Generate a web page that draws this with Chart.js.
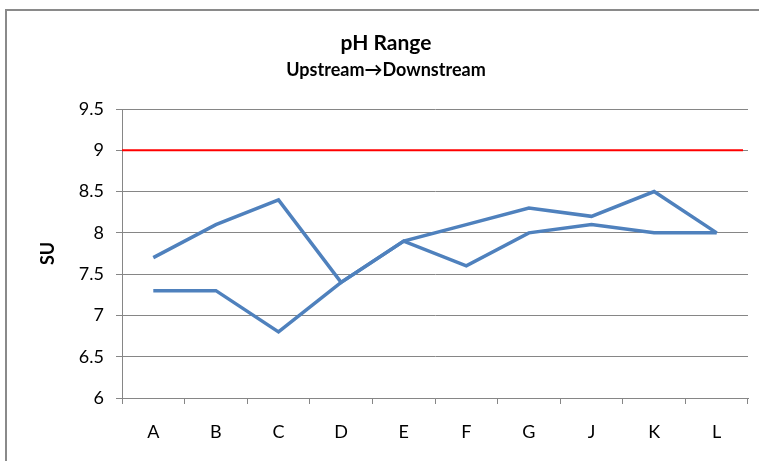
<!DOCTYPE html>
<html>
<head>
<meta charset="utf-8">
<script src="https://cdn.jsdelivr.net/npm/chart.js@4"></script>
<style>
  body { margin: 0; background: #fff; }
  #frame { position: absolute; left: 5px; top: 9px; width: 800px; height: 500px; border: 2px solid #8a8a8a; }
  #wrap { position: absolute; left: 0; top: 0; width: 759px; height: 461px; }
</style>
</head>
<body>
<div id="frame"></div>
<div id="wrap"><canvas id="phChart" width="759" height="461"></canvas></div>
<script>
const categorias = ['A', 'B', 'C', 'D', 'E', 'F', 'G', 'J', 'K', 'L'];
const serieAlta = [7.7, 8.1, 8.4, 7.4, 7.9, 8.1, 8.3, 8.2, 8.5, 8.0];
const serieBaixa = [7.3, 7.3, 6.8, 7.4, 7.9, 7.6, 8.0, 8.1, 8.0, 8.0];
const limiteMax = 9;
const yMin = 6, yMax = 9.5, yStep = 0.5;
const titulo = 'pH Range';
const subtitulo = 'Upstream\u2192Downstream';

const fonte = 'Lato, "Open Sans", sans-serif';

// linha vermelha do limite e titulos
const extras = {
    id: 'extras',
    afterDatasetsDraw(chart) {
        const ctx = chart.ctx;
        const area = chart.chartArea;
        const y = chart.scales.y.getPixelForValue(limiteMax);
        ctx.save();
        ctx.strokeStyle = '#ff0000';
        ctx.lineWidth = 2;
        ctx.beginPath();
        ctx.moveTo(area.left, y);
        ctx.lineTo(area.right - 5, y);
        ctx.stroke();
        ctx.restore();
    },
    afterDraw(chart) {
        const ctx = chart.ctx;
        ctx.save();
        ctx.fillStyle = '#000';
        ctx.textAlign = 'center';
        ctx.textBaseline = 'middle';
        ctx.font = 'bold 21px ' + fonte;
        ctx.fillText(titulo, 386, 43);
        ctx.font = 'bold 18px ' + fonte;
        ctx.fillText(subtitulo, 386, 70);
        ctx.restore();
    }
};

const ctx = document.getElementById('phChart').getContext('2d');
new Chart(ctx, {
    type: 'line',
    data: {
        labels: categorias,
        datasets: [{
            label: 'Upstream',
            data: serieAlta,
            borderColor: '#4f81bd',
            borderWidth: 3.5,
            pointRadius: 0,
            tension: 0
        }, {
            label: 'Downstream',
            data: serieBaixa,
            borderColor: '#4f81bd',
            borderWidth: 3.5,
            pointRadius: 0,
            tension: 0
        }]
    },
    options: {
        responsive: false,
        animation: false,
        layout: { padding: { top: 109, right: 11, left: 0, bottom: 0 } },
        plugins: {
            legend: { display: false },
            title: { display: false },
            tooltip: { enabled: false }
        },
        scales: {
            x: {
                offset: true,
                grid: { offset: true, drawOnChartArea: false, tickLength: 6, color: '#868686' },
                border: { color: '#868686' },
                ticks: { padding: 17, color: '#000', font: { family: fonte, size: 18 } },
                afterFit: function(scale) { scale.height = 63; }
            },
            y: {
                min: yMin,
                max: yMax,
                ticks: {
                    stepSize: yStep, padding: 12, color: '#000',
                    font: { family: fonte, size: 18 },
                    callback: v => String(v)
                },
                grid: { color: '#868686', tickLength: 6 },
                border: { color: '#868686' },
                title: {
                    display: true,
                    text: 'SU',
                    color: '#000',
                    font: { family: fonte, size: 18, weight: 'bold' },
                    padding: { top: 37, bottom: 0 }
                },
                afterFit: function(scale) { scale.width = 122; }
            }
        }
    },
    plugins: [extras]
});
</script>
</body>
</html>
